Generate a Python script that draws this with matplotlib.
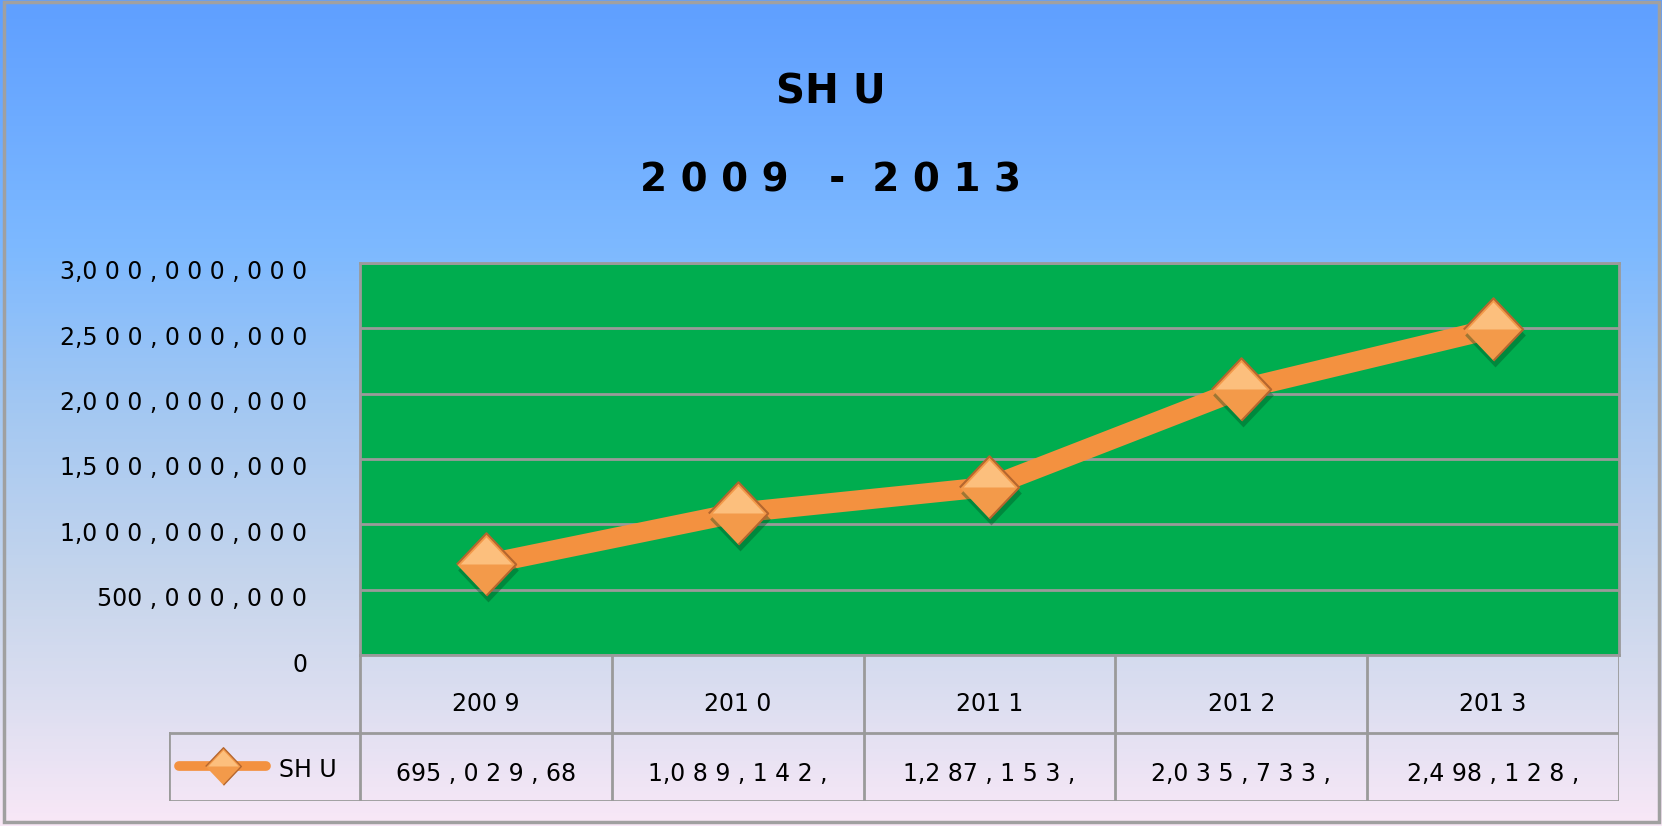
import numpy as np
import matplotlib
matplotlib.use("Agg")
from matplotlib import pyplot as plt
from matplotlib.transforms import ScaledTranslation
from matplotlib.colors import LinearSegmentedColormap
from matplotlib.patches import Rectangle

plt.rcParams['font.family'] = ['DejaVu Sans']

# data
years = ["2009", "2010", "2011", "2012", "2013"]
year_labels = ["200 9", "201 0", "201 1", "201 2", "201 3"]
shu = [695029680, 1089142000, 1287153000, 2035733000, 2498128000]
shu_labels = ["695 , 0 2 9 , 68", "1,0 8 9 , 1 4 2 ,", "1,2 87 , 1 5 3 ,",
              "2,0 3 5 , 7 3 3 ,", "2,4 98 , 1 2 8 ,"]
yticks = [0, 500000000, 1000000000, 1500000000, 2000000000, 2500000000, 3000000000]
ytick_labels = ["0", "500 , 0 0 0 , 0 0 0", "1,0 0 0 , 0 0 0 , 0 0 0",
                "1,5 0 0 , 0 0 0 , 0 0 0", "2,0 0 0 , 0 0 0 , 0 0 0",
                "2,5 0 0 , 0 0 0 , 0 0 0", "3,0 0 0 , 0 0 0 , 0 0 0"]

W, H = 1662, 826
fig = plt.figure(figsize=(W / 100, H / 100), dpi=100)

# background gradient
bg = fig.add_axes([0, 0, 1, 1], zorder=-10)
cmap = LinearSegmentedColormap.from_list("bg", [
    (0.0, "#5f9fff"), (0.3, "#7db9ff"), (0.5, "#a4c8f2"),
    (0.72, "#c8d6ec"), (0.86, "#dedff1"), (1.0, "#f9e8f7")])
grad = np.linspace(0, 1, 256)[:, None]
bg.imshow(grad, aspect="auto", cmap=cmap, extent=[0, 1, 0, 1], origin="upper")
bg.set_xlim(0, 1)
bg.set_ylim(0, 1)
bg.axis("off")
bg.add_patch(Rectangle((4 / W, 4 / H), 1 - 7 / W, 1 - 6 / H, fill=False,
                       ec="#a0a0a0", lw=2.5))

# titles
fig.text(0.5, 1 - 92 / H, "SH U", ha="center", va="center",
         fontsize=29, fontweight="bold")
fig.text(0.5, 1 - 181 / H, "2 0 0 9   -  2 0 1 3", ha="center", va="center",
         fontsize=28, fontweight="bold")

# main plot
left, right, top, bottom = 360, 1619, 263, 655
ax = fig.add_axes([left / W, 1 - bottom / H, (right - left) / W, (bottom - top) / H])
ax.set_facecolor("#00ad4f")
x = np.arange(len(years))
ax.set_xlim(-0.5, len(years) - 0.5)
ax.set_ylim(0, 3000000000)
ax.set_yticks(yticks)
ax.set_yticklabels(ytick_labels, fontsize=17)
ax.set_xticks([])
ax.tick_params(axis="y", length=0, pad=38)
for lab in ax.get_yticklabels():
    lab.set_transform(lab.get_transform() + ScaledTranslation(0, -0.07, fig.dpi_scale_trans))
ax.yaxis.grid(True, color="#9a9a9a", lw=2)
ax.set_axisbelow(True)
for s in ax.spines.values():
    s.set_color("#9a9a9a")
    s.set_linewidth(2)

diamond = [(-0.95, 0), (0, 1), (0.95, 0), (0, -1)]
upper = [(-0.95, 0), (0, 1), (0.95, 0)]
ax.plot(x, shu, color="#f39140", lw=14.5, solid_capstyle="butt", zorder=3)
# shadow, body, highlight of the markers
shadow = ScaledTranslation(2 / 100, -6 / 100, fig.dpi_scale_trans)
ax.plot(x, shu, ls="none", marker=diamond, ms=46, mfc="#00451c", mec="none",
        alpha=0.35, transform=ax.transData + shadow, zorder=4)
ax.plot(x, shu, ls="none", marker=diamond, ms=45, mfc="#f39a4a", mec="#b5662e",
        mew=1.5, zorder=5)
ax.plot(x, shu, ls="none", marker=upper, ms=39, mfc="#ffc98a", mec="none",
        alpha=0.8, zorder=6)

# data table under the plot
tleft, tbottom = 169, 801
tab = fig.add_axes([tleft / W, 1 - tbottom / H, (right - tleft) / W, (tbottom - bottom) / H])
tab.patch.set_alpha(0)
tab.axis("off")
col_w = (right - left) / len(years)
lx = -0.5 - (left - tleft) / col_w
tab.set_xlim(lx, len(years) - 0.5)
tab.set_ylim(0, tbottom - bottom)
row_h = tbottom - 733
gcol = "#9a9a9a"
for xv in np.arange(len(years) + 1) - 0.5:
    tab.plot([xv, xv], [0, tbottom - bottom], color=gcol, lw=2)
tab.plot([lx, lx], [0, row_h], color=gcol, lw=2)
tab.plot([lx, len(years) - 0.5], [row_h, row_h], color=gcol, lw=2)
tab.plot([lx, len(years) - 0.5], [0, 0], color=gcol, lw=2)
for i in range(len(years)):
    tab.text(x[i], row_h + (tbottom - bottom - row_h) / 2 - 10, year_labels[i],
             ha="center", va="center", fontsize=17)
    tab.text(x[i], row_h / 2 - 7, shu_labels[i], ha="center", va="center", fontsize=17)

# legend key inside the table
ky = row_h / 2 + 1
k0 = lx + (179 - tleft) / col_w
k1 = lx + (266 - tleft) / col_w
km = (k0 + k1) / 2
tab.plot([k0, k1], [ky, ky], color="#f39140", lw=7, solid_capstyle="round")
tab.plot([km], [ky], ls="none", marker=diamond, ms=27, mfc="#f39a4a", mec="#b5662e", mew=1)
tab.plot([km], [ky], ls="none", marker=upper, ms=23, mfc="#ffc98a", mec="none", alpha=0.8)
tab.text(lx + (279 - tleft) / col_w, ky - 4, "SH U", ha="left", va="center", fontsize=17)

fig.savefig("out.png", dpi=100)
